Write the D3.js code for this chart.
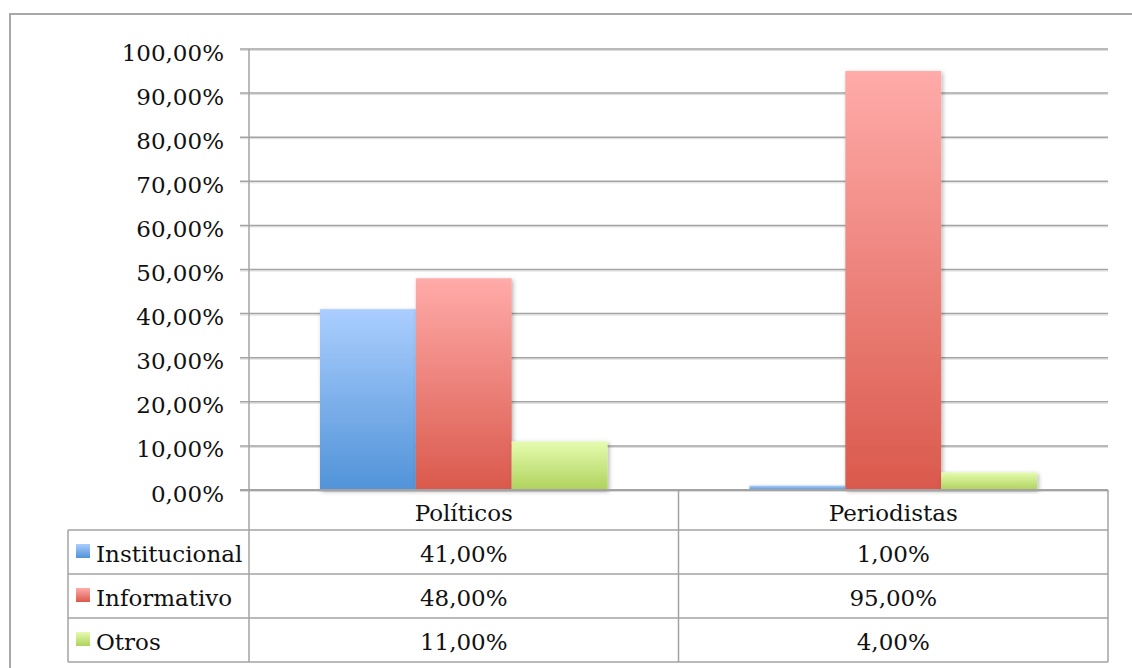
<!DOCTYPE html>
<html><head><meta charset="utf-8">
<script src="https://cdn.jsdelivr.net/npm/d3@7"></script>
<style>
html,body{margin:0;padding:0;background:#fff;}
svg{display:block;}
text{font-family:"DejaVu Serif",serif;font-size:23px;fill:#111;}
</style></head>
<body>
<svg id="chart" width="1132" height="668"></svg>
<script>
const categories = ["Políticos", "Periodistas"];
const seriesNames = ["Institucional", "Informativo", "Otros"];
const institucional = [0.41, 0.01];
const informativo = [0.48, 0.95];
const otros = [0.11, 0.04];
const seriesValues = [institucional, informativo, otros];
const yTicks = [0, 0.1, 0.2, 0.3, 0.4, 0.5, 0.6, 0.7, 0.8, 0.9, 1.0];
const fmt = v => d3.format(".2f")(v * 100).replace(".", ",") + "%";

const colors = [
  {top: "#aacefe", bottom: "#5193d8"},
  {top: "#ffaba9", bottom: "#da594c"},
  {top: "#e5fcb0", bottom: "#afd25c"}
];

const svg = d3.select("#chart");
const defs = svg.append("defs");
colors.forEach((c, i) => {
  const g = defs.append("linearGradient").attr("id", "g" + i)
    .attr("x1", 0).attr("y1", 0).attr("x2", 0).attr("y2", 1);
  g.append("stop").attr("offset", "0%").attr("stop-color", c.top);
  g.append("stop").attr("offset", "100%").attr("stop-color", c.bottom);
});
const f = defs.append("filter").attr("id", "sh").attr("x", "-20%").attr("y", "-20%").attr("width", "140%").attr("height", "140%");
f.append("feDropShadow").attr("dx", 1.5).attr("dy", 1.5).attr("stdDeviation", 2).attr("flood-color", "#000").attr("flood-opacity", 0.3);

// outer frame
svg.append("rect").attr("x", 10).attr("y", 14).attr("width", 1140).attr("height", 680)
  .attr("fill", "none").attr("stroke", "#a8a8a8").attr("stroke-width", 2);

const pLeft = 249, pRight = 1108, pTop = 49, pBottom = 490;
const y = d3.scaleLinear().domain([0, 1]).range([pBottom, pTop]);
const x0 = d3.scaleBand().domain(categories).range([pLeft, pRight]);
const x1 = d3.scaleBand().domain(seriesNames).range([0, x0.bandwidth()]).paddingInner(0).paddingOuter(0.74);

// gridlines
const grid = svg.append("g");
yTicks.forEach(t => {
  grid.append("line").attr("x1", 240).attr("x2", pRight).attr("y1", y(t) + 1.5).attr("y2", y(t) + 1.5)
    .attr("stroke", "#dcdcdc").attr("stroke-width", 1);
  grid.append("line").attr("x1", 240).attr("x2", pRight).attr("y1", y(t)).attr("y2", y(t))
    .attr("stroke", "#a3a3a3").attr("stroke-width", 1.5);
});

// y axis labels
const yAxis = d3.axisLeft(y).tickValues(yTicks).tickFormat(fmt).tickSize(0).tickPadding(25);
const ya = svg.append("g").attr("transform", `translate(${pLeft},0)`).call(yAxis);
ya.select(".domain").remove();
ya.selectAll("text").attr("font-family", "DejaVu Serif").attr("font-size", 23).attr("fill", "#111").attr("dy", 11);

// bars
seriesValues.forEach((vals, si) => {
  svg.append("g").selectAll("rect").data(categories).join("rect")
    .attr("x", c => x0(c) + x1(seriesNames[si]))
    .attr("y", (c, ci) => y(vals[ci]))
    .attr("width", x1.bandwidth())
    .attr("height", (c, ci) => y(0) - y(vals[ci]))
    .attr("fill", `url(#g${si})`)
    .attr("filter", "url(#sh)");
});

// y axis line
svg.append("line").attr("x1", pLeft).attr("x2", pLeft).attr("y1", pTop).attr("y2", 662)
  .attr("stroke", "#a3a3a3").attr("stroke-width", 1.5);
// baseline
svg.append("line").attr("x1", 240).attr("x2", pRight).attr("y1", pBottom).attr("y2", pBottom)
  .attr("stroke", "#a3a3a3").attr("stroke-width", 2);

// data table
const tableLeft = 68;
const rowLines = [530, 574, 618, 662];
const tbl = svg.append("g").attr("stroke", "#a3a3a3").attr("stroke-width", 1.5);
rowLines.forEach(ry => tbl.append("line").attr("x1", tableLeft).attr("x2", pRight).attr("y1", ry).attr("y2", ry));
tbl.append("line").attr("x1", tableLeft).attr("x2", tableLeft).attr("y1", 530).attr("y2", 662);
tbl.append("line").attr("x1", x0.step() + pLeft).attr("x2", x0.step() + pLeft).attr("y1", pBottom).attr("y2", 662);
tbl.append("line").attr("x1", pRight).attr("x2", pRight).attr("y1", pBottom).attr("y2", 662);

// header
svg.append("g").selectAll("text").data(categories).join("text")
  .attr("x", c => x0(c) + x0.bandwidth() / 2).attr("y", 521)
  .attr("text-anchor", "middle").text(c => c);

// rows
seriesValues.forEach((vals, si) => {
  const rowMid = (rowLines[si] + rowLines[si + 1]) / 2;
  svg.append("g").selectAll("text").data(categories).join("text")
    .attr("x", c => x0(c) + x0.bandwidth() / 2).attr("y", rowMid + 10)
    .attr("text-anchor", "middle").text((c, ci) => fmt(vals[ci]));
  svg.append("rect").attr("x", 76).attr("y", rowMid - 8).attr("width", 14).attr("height", 14)
    .attr("fill", `url(#g${si})`);
  svg.append("text").attr("x", 96).attr("y", rowMid + 10).text(seriesNames[si]);
});
</script>
</body></html>
